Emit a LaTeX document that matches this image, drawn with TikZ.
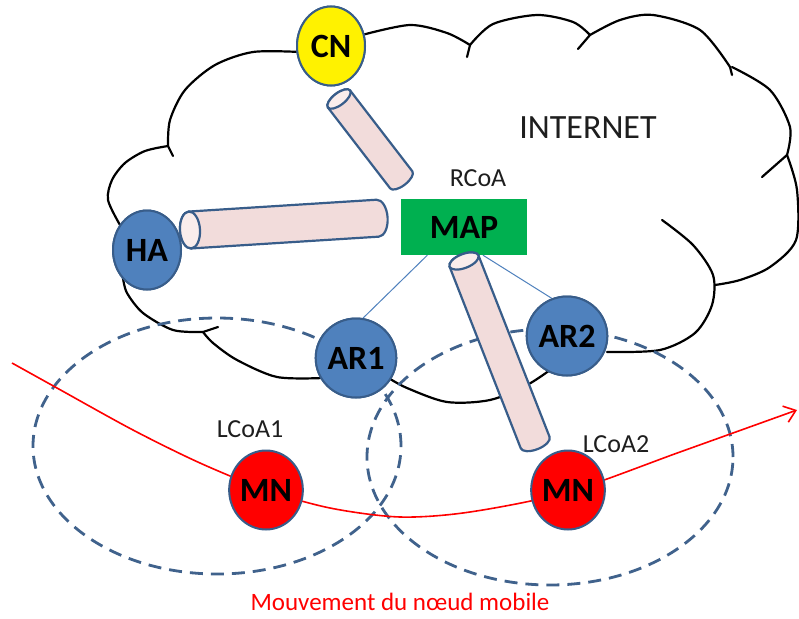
\documentclass[tikz,border=0pt]{standalone}
\usepackage{fontspec}
\setmainfont{Carlito}
\usetikzlibrary{shapes.geometric,arrows.meta,calc}
\definecolor{nodeblue}{RGB}{79,129,189}
\definecolor{borderblue}{RGB}{56,93,138}
\definecolor{dashblue}{RGB}{64,98,140}
\definecolor{tubefill}{RGB}{242,220,219}
\definecolor{tubeend}{RGB}{249,237,236}
\definecolor{mapgreen}{RGB}{0,176,80}
\definecolor{textgray}{RGB}{30,30,30}
\tikzset{
  station/.style={ellipse, draw=borderblue, line width=2pt, inner sep=0pt,
    minimum width=68pt, minimum height=79pt, font=\fontsize{34}{40}\selectfont\bfseries},
  cloudline/.style={black, line width=2.2pt, line cap=round, line join=round},
  zone/.style={dashblue, line width=2.8pt, dash pattern=on 13pt off 8pt},
  thinlink/.style={nodeblue, line width=1pt},
  tubebody/.style={draw=borderblue, fill=tubefill, line width=2.2pt, line join=round},
  tubecap/.style={draw=borderblue, fill=tubeend, line width=2.2pt},
  movepath/.style={red, line width=1.6pt},
  lbl/.style={inner sep=0pt, text=textgray, font=\fontsize{26}{30}\selectfont}
}
\newcommand{\tubeshape}[6]{% x, y, angle, length, radius, endradius
  \begin{scope}[shift={(#1,#2)}, rotate=#3]
    \path[tubebody] (0pt,-#5pt) -- (#4pt,-#5pt)
      arc[start angle=-90, end angle=90, x radius=#6pt, y radius=#5pt]
      -- (0pt,#5pt)
      arc[start angle=90, end angle=270, x radius=#6pt, y radius=#5pt] -- cycle;
    \path[tubecap] (0pt,0pt) ellipse [x radius=#6pt, y radius=#5pt];
  \end{scope}}
\begin{document}
\begin{tikzpicture}[x=1pt, y=-1pt]
\useasboundingbox (0,0) rectangle (799,618);
\fill[white] (0,0) rectangle (799,618);

% cloud outline
\draw[cloudline] plot[smooth] coordinates {(120,225) (108,200) (112,180) (125,163) (145,151) (168,146)};
\draw[cloudline] (168,146) -- (173,156);
\draw[cloudline] plot[smooth] coordinates {(168,146) (170,120) (185,90) (215,65) (253,52) (300,52)};
\draw[cloudline] plot[smooth] coordinates {(362,35) (410,25) (447,33) (470,45)};
\draw[cloudline] (470,45) -- (467,57);
\draw[cloudline] plot[smooth] coordinates {(470,45) (493,24) (537,15) (573,22) (590,35)};
\draw[cloudline] (590,35) -- (578,49);
\draw[cloudline] plot[smooth] coordinates {(590,35) (620,20) (653,15) (700,30) (730,67)};
\draw[cloudline] (730,67) -- (732,75);
\draw[cloudline] plot[smooth] coordinates {(732,67) (770,90) (790,127) (787,155)};
\draw[cloudline] (787,155) -- (762,177);
\draw[cloudline] plot[smooth] coordinates {(787,155) (797,190) (796,240) (770,267) (740,280) (715,285)};
\draw[cloudline] plot[smooth] coordinates {(662,220) (693,245) (713,275) (712,305) (695,333) (660,350) (607,352)};
\draw[cloudline] plot[smooth] coordinates {(550,370) (527,385) (490,400) (447,402) (407,388) (387,377)};
\draw[cloudline] plot[smooth] coordinates {(323,378) (277,377) (237,360) (213,343) (203,332)};
\draw[cloudline] (203,332) -- (218,327);
\draw[cloudline] plot[smooth] coordinates {(203,332) (173,330) (143,313) (127,293) (123,278)};

% coverage zones
\draw[zone] (217,446) ellipse [x radius=184pt, y radius=128pt];
\draw[zone] (550,457) ellipse [x radius=183pt, y radius=128pt];

% nodes
\node[station, fill=yellow] (cn) at (331,46) {CN};
\node[station, fill=nodeblue] (ha) at (147,250) {HA};
\node[station, fill=nodeblue] (ar1) at (356,358) {AR1};
\node[station, fill=nodeblue] (ar2) at (567,336) {AR2};
\node[rectangle, fill=mapgreen, minimum width=126pt, minimum height=56pt, inner sep=0pt,
  font=\fontsize{34}{40}\selectfont\bfseries] (map) at (464,227) {MAP};

% thin links
\coordinate (m1) at ($(map.south west)!0.21!(map.south east)$);
\coordinate (m2) at ($(map.south west)!0.65!(map.south east)$);
\draw[thinlink] (m1) -- (ar1.80);
\draw[thinlink] (m2) -- (ar2.112);

% tunnels
\tubeshape{339}{99}{-52.4}{102}{14}{6}
\tubeshape{190}{230}{3.6}{188}{18.5}{10}
\tubeshape{464}{261}{-68.6}{195}{15.5}{7}

% movement path
\coordinate (pstart) at (12,363);
\coordinate (pend) at (797,410);
\draw[movepath, -{Straight Barb[length=11pt,width=17pt,line width=1.6pt]}] plot[smooth] coordinates
  {(pstart) (57,388) (133,430) (200,463) (266,490) (330,508) (400,517) (470,512) (568,492) (680,452) (pend)};

% redraw nodes on top
\node[station, fill=yellow] at (cn) {CN};
\node[station, fill=nodeblue] at (ha) {HA};
\node[station, fill=nodeblue] at (ar1) {AR1};
\node[station, fill=nodeblue] at (ar2) {AR2};
\node[station, fill=red] (mn1) at (266,490) {MN};
\node[station, fill=red] (mn2) at (568,490) {MN};

% labels
\node[inner sep=0pt, font=\fontsize{34}{40}\selectfont, text=textgray] (internet) at (588,128) {INTERNET};
\node[lbl] (rcoa) at (478,178) {RCoA};
\node[lbl] (lcoa1) at (250,429) {LCoA1};
\node[lbl] (lcoa2) at (616,444) {LCoA2};
\node[inner sep=0pt, text=red, font=\fontsize{25}{30}\selectfont] (caption) at (400,602) {Mouvement du nœud mobile};
\end{tikzpicture}
\end{document}
